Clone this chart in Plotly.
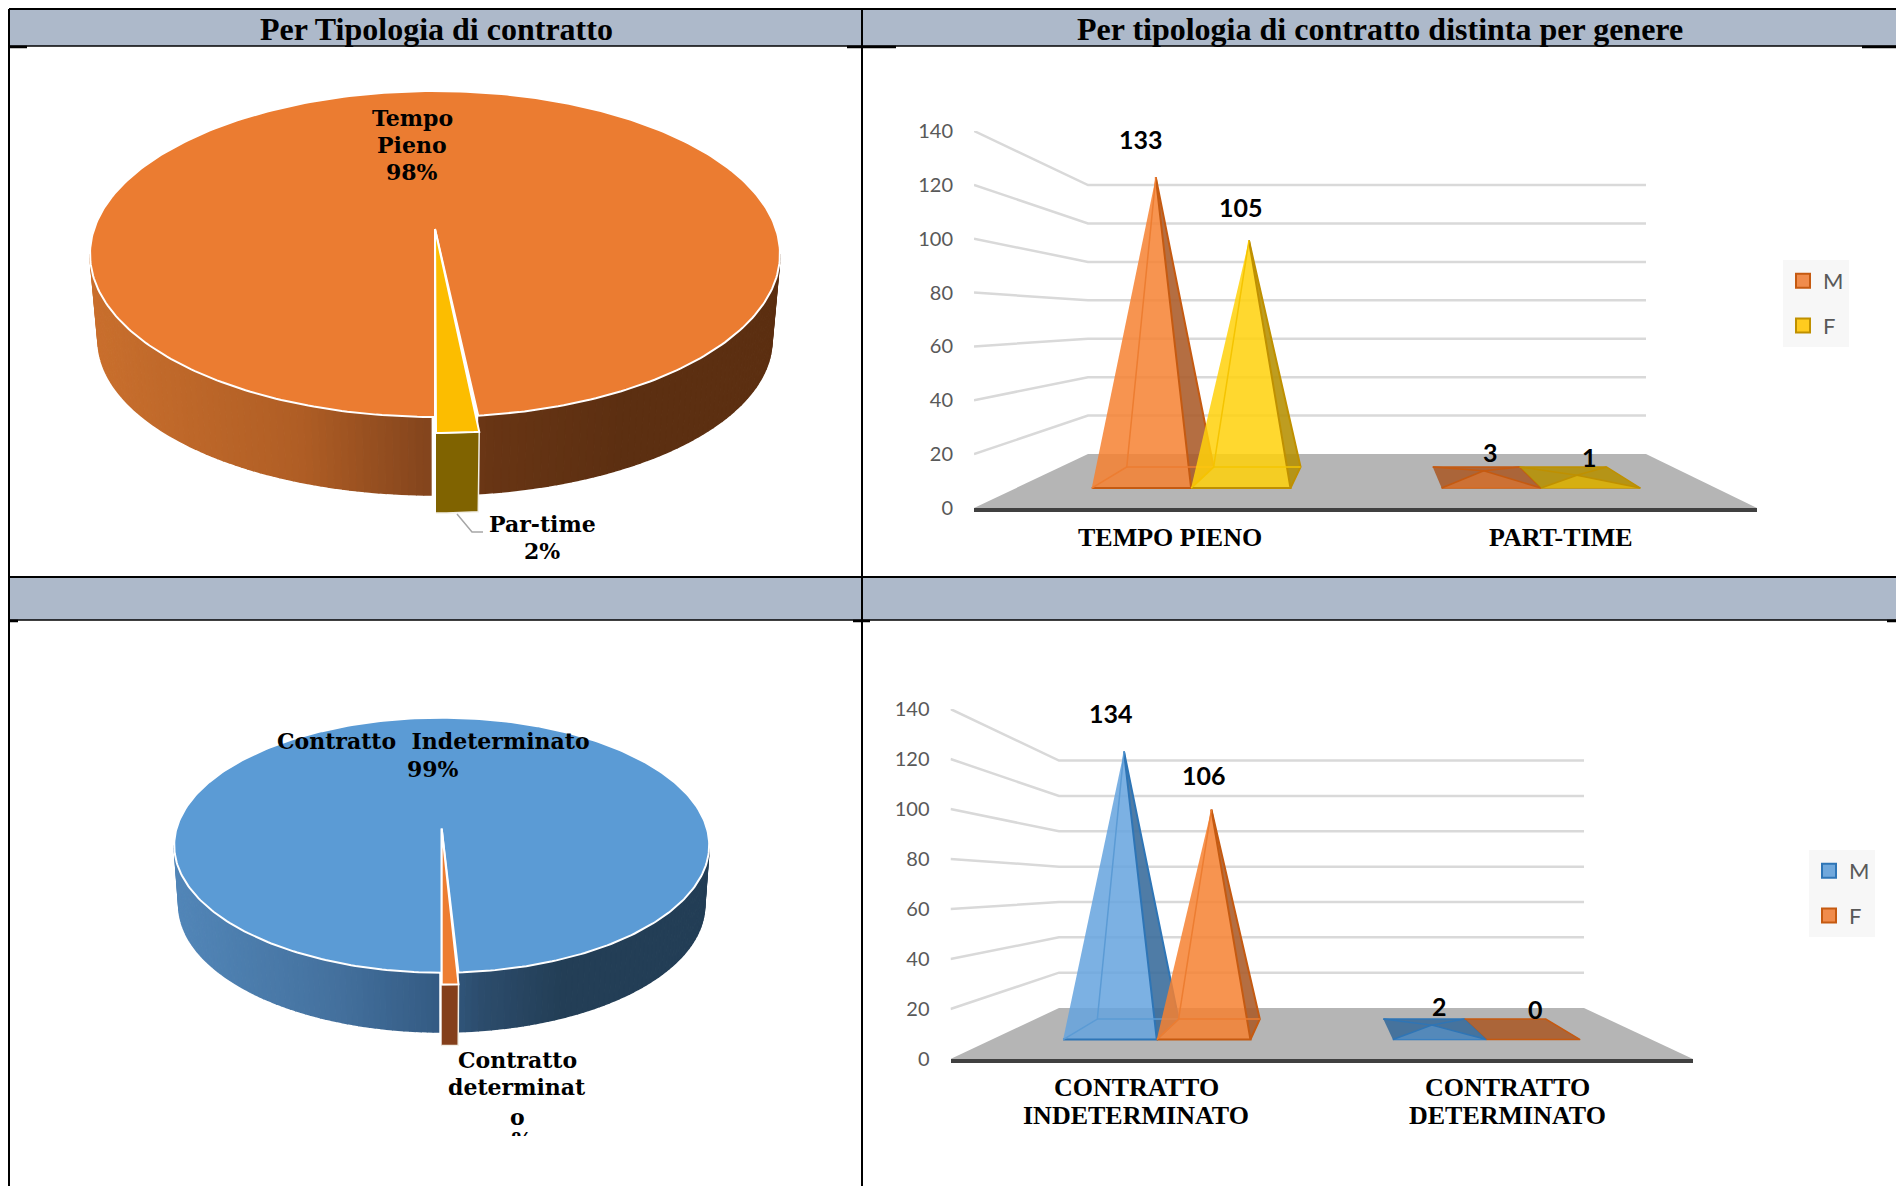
import math
import plotly.graph_objects as go

# ---------------- data ----------------
TITLE_LEFT = "Per Tipologia di contratto"
TITLE_RIGHT = "Per tipologia di contratto distinta per genere"

PIE_A_SHARES = [98, 2]
PIE_B_SHARES = [99, 1]

BAR_A_CATEGORIES = ["TEMPO PIENO", "PART-TIME"]
BAR_A_M = [133, 3]
BAR_A_F = [105, 1]

BAR_B_CATEGORIES = ["CONTRATTO<br>INDETERMINATO", "CONTRATTO<br>DETERMINATO"]
BAR_B_M = [134, 2]
BAR_B_F = [106, 0]

AXIS_TICKS = [0, 20, 40, 60, 80, 100, 120, 140]
SERIES_NAMES = ["M", "F"]

# ---------------- styles ----------------
SERIF = "DejaVu Serif"
TIMES = "Liberation Serif"
SANS = "Lato"
W, H = 1896, 1186

ORANGE = dict(face="rgba(246,129,49,0.85)", side="rgba(170,90,40,0.88)", edge="#C55A11",
              inner="#ED7D31", swatch="#F08C4C")
YELLOW = dict(face="rgba(255,209,10,0.85)", side="rgba(181,143,1,0.88)", edge="#BF9000",
              inner="#F5C400", swatch="#FFCB1F")
BLUE = dict(face="rgba(101,163,222,0.85)", side="rgba(55,106,154,0.88)", edge="#2E75B6",
            inner="#5B9BD5", swatch="#70A8DC")

traces = []
shapes = []
annotations = []


def add_poly(xs, ys, fill, line=None, width=0, ax=("x", "y")):
    traces.append(go.Scatter(
        x=xs, y=ys, mode="lines", fill="toself", fillcolor=fill,
        line=dict(color=line or "rgba(0,0,0,0)", width=width),
        hoverinfo="skip", showlegend=False, xaxis=ax[0], yaxis=ax[1], cliponaxis=False))


def add_line(xs, ys, color, width, ax):
    traces.append(go.Scatter(
        x=xs, y=ys, mode="lines", line=dict(color=color, width=width),
        hoverinfo="skip", showlegend=False, xaxis=ax[0], yaxis=ax[1], cliponaxis=False))


def hex_mix(stops, p):
    """stops: list of (position, (r,g,b))"""
    for (p0, c0), (p1, c1) in zip(stops, stops[1:]):
        if p <= p1:
            k = (p - p0) / (p1 - p0) if p1 > p0 else 0
            k = max(0, k)
            return "rgb(%d,%d,%d)" % tuple(round(a + (b - a) * k) for a, b in zip(c0, c1))
    return "rgb(%d,%d,%d)" % stops[-1][1]


def draw_pie(shares, g):
    theta = 360 * shares[1] / sum(shares)
    th = math.radians(theta)

    def top(t, dx=0, dy=0):
        return g["cx"] + g["rx"] * math.sin(t) + dx, g["cy"] + g["ry"] * math.cos(t) + dy

    def bot(t, dx=0, dy=0):
        return g["cx"] + g["brx"] * math.sin(t) + dx, g["bcy"] + g["bry"] * math.cos(t) + dy

    # gradient side wall of the large slice
    def bands(t0, t1, n):
        for i in range(n):
            a = t0 + (t1 - t0) * i / n
            b = t0 + (t1 - t0) * (i + 1) / n
            m = math.sin((a + b) / 2)
            col = hex_mix(g["wall"], m)
            steps = [a + (b - a) * j / 2 for j in range(3)]
            pts = [top(s) for s in steps] + [bot(s) for s in reversed(steps)]
            add_poly([p[0] for p in pts], [p[1] for p in pts], col, col, 1.5)

    bands(-math.pi / 2, -0.012, 70)
    bands(th, math.pi / 2, 60)

    # top of large slice
    ax, ay = g["cx"], g["apex"]
    steps = [th + (2 * math.pi - th) * i / 360 for i in range(361)]
    pts = [(ax, ay)] + [top(s) for s in steps] + [(ax, ay)]
    add_poly([p[0] for p in pts], [p[1] for p in pts], g["main"], "white", 2)

    # exploded small slice: wall and top
    arc = [th * i / 8 for i in range(9)]
    ex, ey, wy = g["ex"], g["ey"], g["wy"]
    pts = [top(s, ex, ey) for s in arc] + [bot(s, ex, wy) for s in reversed(arc)]
    add_poly([p[0] for p in pts], [p[1] for p in pts], g["small_wall"], "#F2EFE6", 1.5)
    pts = [(ax, ay)] + [top(s, ex, ey) for s in arc] + [(ax, ay)]
    add_poly([p[0] for p in pts], [p[1] for p in pts], g["small"], "white", 2)


draw_pie(PIE_A_SHARES, dict(
    cx=435, cy=254, rx=345, ry=163, brx=337, bcy=340, bry=155, apex=229,
    ex=1, ey=16, wy=18, main="#EB7C31", small="#FCBD00", small_wall="#806300",
    wall=[(-1, (201, 111, 45)), (-0.4, (176, 94, 37)), (0, (129, 67, 28)),
          (0.15, (104, 53, 20)), (0.55, (92, 47, 17)), (1, (92, 47, 17))]))

draw_pie(PIE_B_SHARES, dict(
    cx=441.7, cy=845.2, rx=267.5, ry=127.5, brx=263, bcy=905, bry=127, apex=828.5,
    ex=0, ey=11.7, wy=13.4, main="#5B9BD5", small="#ED7D31", small_wall="#843F1B",
    wall=[(-1, (82, 134, 184)), (-0.4, (68, 113, 158)), (0, (51, 90, 130)),
          (0.15, (44, 76, 108)), (0.45, (35, 62, 86)), (1, (35, 62, 86))]))


def draw_chart(geom, cats, m_vals, f_vals, styles, ax, legend, labels):
    fl, fr, bl, br = geom["fl"], geom["fr"], geom["bl"], geom["br"]
    y0f, y0b, sf, sb = geom["y0f"], geom["y0b"], geom["sf"], geom["sb"]
    df, db = geom["df"], geom["db"]
    dm = (df + db) / 2

    def proj(u, v, d):
        left = fl + d * (bl - fl)
        right = fr + d * (br - fr)
        px = left + (right - left) * u / 2
        py = y0f + d * (y0b - y0f) - (sf + d * (sb - sf)) * v
        return (px - fl) / (fr - fl) * 2, (y0f - py) / sf

    def poly(pts):
        return [p[0] for p in pts], [p[1] for p in pts]

    # floor
    add_poly(*poly([proj(0, 0, 0), proj(0, 0, 1), proj(2, 0, 1), proj(2, 0, 0)]), "#B5B5B5", ax=ax)
    # wall grid lines (side wall + back wall)
    for v in AXIS_TICKS[1:]:
        add_line(*poly([proj(0, v, 0), proj(0, v, 1), proj(2, v, 1)]), "#D9D9D9", 2.5, ax)

    half = 0.142
    for i, cat in enumerate(cats):
        c = i + 0.5
        # category label, one annotation per line so the line spacing can follow the source
        for k, part in enumerate(cat.split("<br>")):
            annotations.append(dict(
                x=c, y=geom["cat_y"] + k * 28, xref=ax[0], yref="y", text="<b>%s</b>" % part,
                showarrow=False, xanchor="center", yanchor="middle",
                font=dict(family=TIMES, size=26, color="black")))
        for s, (vals, st) in enumerate(zip((m_vals, f_vals), styles)):
            v = vals[i]
            u = c + (-0.142 if s == 0 else 0.142)
            FL = proj(u - half, 0, df)
            FR = proj(u + half, 0, df)
            BL = proj(u - half, 0, db)
            BR = proj(u + half, 0, db)
            A = proj(u, v, dm)
            flat = A[1] < BL[1]
            if flat:
                add_poly(*poly([FL, FR, BR, BL]), st["side"], st["edge"], 1.5, ax)
                if v > 0:
                    add_poly(*poly([FL, FR, A]), st["face"].replace("0.85", "0.45"), ax=ax)
                    for P in (FL, FR, BL, BR):
                        add_line(*poly([P, A]), st["edge"], 1.5, ax)
            else:
                add_poly(*poly([FR, BR, A]), st["side"], st["edge"], 2, ax)
                add_poly(*poly([FL, FR, A]), st["face"], st["edge"], 2, ax)
                add_line(*poly([FL, BL, A]), st["inner"], 1.5, ax)
                add_line(*poly([BL, BR]), st["inner"], 1.5, ax)
            xs, ys = A
            dx, dy = labels[i][s]
            annotations.append(dict(
                x=xs, y=ys, xref=ax[0], yref=ax[1], text="<b>%d</b>" % v, showarrow=False,
                xshift=dx, yshift=-dy, font=dict(family=SANS, size=25, color="black")))

    # legend entries
    for name, st in zip(SERIES_NAMES, styles):
        traces.append(go.Scatter(
            x=[None], y=[None], mode="markers", name=name, legend=legend, legendgroup=name,
            marker=dict(symbol="square", size=14, color=st["swatch"], line=dict(color=st["edge"], width=2)),
            xaxis=ax[0], yaxis=ax[1], hoverinfo="skip"))


GEOM_A = dict(fl=974, fr=1757, bl=1088, br=1646, y0f=508, y0b=454, sf=2.693, sb=1.921, df=0.37, db=0.76, cat_y=537.5)
GEOM_B = dict(fl=950.5, fr=1693, bl=1059, br=1584, y0f=1059, y0b=1008, sf=2.5, sb=1.767, df=0.382, db=0.784, cat_y=1087)

draw_chart(GEOM_A, BAR_A_CATEGORIES, BAR_A_M, BAR_A_F, (ORANGE, YELLOW), ("x2", "y2"), "legend",
           [[(-15, -38), (-8, -34)], [(7, -19), (13, -18)]])
draw_chart(GEOM_B, BAR_B_CATEGORIES, BAR_B_M, BAR_B_F, (BLUE, ORANGE), ("x3", "y3"), "legend2",
           [[(-13, -39), (-7, -35)], [(8, -19), (16, -20)]])


# ---------------- table frame ----------------
def rect(x0, y0, x1, y1, color):
    shapes.append(dict(type="rect", xref="x", yref="y", x0=x0, y0=y0, x1=x1, y1=y1,
                       fillcolor=color, line=dict(width=0), layer="below"))


rect(9, 9, W, 46, "#ADB9CA")
rect(9, 577, W, 620, "#ADB9CA")
for x0, y0, x1, y1, t in [
    (9, 9, W, 9, 2), (9, 46, W, 46, 1.5), (9, 577, W, 577, 2), (9, 620, W, 620, 1.5),
    (9, 9, 9, H, 2), (862, 9, 862, H, 2),
    (9, 47, 27, 47, 2.5), (847, 47, 896, 47, 2.5), (1862, 47, W, 47, 2.5),
    (9, 621, 18, 621, 2.5), (853, 621, 870, 621, 2.5), (1887, 621, W, 621, 2.5),
]:
    shapes.append(dict(type="line", xref="x", yref="y", x0=x0, y0=y0, x1=x1, y1=y1,
                       line=dict(color="black", width=t), layer="below"))


def text(s, x, y, family=SERIF, size=22, color="#000000"):
    annotations.append(dict(x=x, y=y, xref="x", yref="y", text="<b>%s</b>" % s, showarrow=False,
                            xanchor="center", yanchor="middle", font=dict(family=family, size=size, color=color)))


text(TITLE_LEFT, 436, 29, TIMES, 32)
text(TITLE_RIGHT, 1380, 29, TIMES, 32)
for s, x, y in [("Tempo", 412, 118), ("Pieno", 412, 145), ("98%", 412, 172),
                ("Par-time", 542, 524), ("2%", 542, 551),
                ("Contratto  Indeterminato", 433, 741), ("99%", 433, 769),
                ("Contratto", 517, 1060), ("determinat", 517, 1087), ("o", 517, 1117)]:
    text(s, x, y)

# leader line of the small slice
add_line([457, 472, 483], [514, 532, 532], "#A6A6A6", 1.5, ("x", "y"))

# the last line of this label is cut off in the source: the white box hides all but its top
traces.append(go.Scatter(x=[522], y=[1142], mode="text", text=["<b>%</b>"], hoverinfo="skip", showlegend=False,
                         textfont=dict(family=SERIF, size=22, color="black"), xaxis="x", yaxis="y", cliponaxis=False))
shapes.append(dict(type="rect", xref="x", yref="y", x0=490, x1=560, y0=1136, y1=1170,
                   fillcolor="white", line=dict(width=0), layer="above"))


# ---------------- layout ----------------
def hidden_axis(rng, **kw):
    return dict(range=rng, visible=False, fixedrange=True, domain=[0, 1], automargin=False, **kw)


def chart_axes(g, xname, yname):
    xa = dict(domain=[g["fl"] / W, g["fr"] / W], range=[0, 2], anchor=yname, tickmode="array",
              tickvals=[], showticklabels=False, ticks="", showgrid=False, zeroline=False, automargin=False,
              showline=True, linecolor="#404040", linewidth=4, fixedrange=True)
    top = g["y0f"] - g["sf"] * 140
    ya = dict(domain=[1 - g["y0f"] / H, 1 - top / H], range=[0, 140], anchor=xname, tickmode="array",
              tickvals=AXIS_TICKS, ticks="", showgrid=False, zeroline=False, showline=False, automargin=False,
              ticklabelstandoff=20, tickfont=dict(family=SANS, size=20, color="#595959"), fixedrange=True)
    return xa, ya


xa2, ya2 = chart_axes(GEOM_A, "x2", "y2")
xa3, ya3 = chart_axes(GEOM_B, "x3", "y3")


def legend_box(x, y):
    return dict(x=x / W, y=1 - y / H, xanchor="left", yanchor="top", bgcolor="#F7F7F7",
                tracegroupgap=13, font=dict(family=SANS, size=22, color="#595959"), itemwidth=30,
                itemclick=False, itemdoubleclick=False)


fig = go.Figure(traces)
fig.update_layout(
    width=W, height=H, autosize=False, margin=dict(l=0, r=0, t=0, b=0, pad=0, autoexpand=False),
    paper_bgcolor="white", plot_bgcolor="rgba(0,0,0,0)", showlegend=True,
    xaxis=hidden_axis([0, W], anchor="y"), yaxis=hidden_axis([H, 0], anchor="x"),
    xaxis2=xa2, yaxis2=ya2, xaxis3=xa3, yaxis3=ya3,
    legend=legend_box(1783, 260), legend2=legend_box(1809, 850),
    shapes=shapes, annotations=annotations, hovermode=False,
)
fig.write_html("out.html", post_script="document.body.style.margin='0';document.body.style.overflow='hidden';",
               config=dict(displayModeBar=False))
